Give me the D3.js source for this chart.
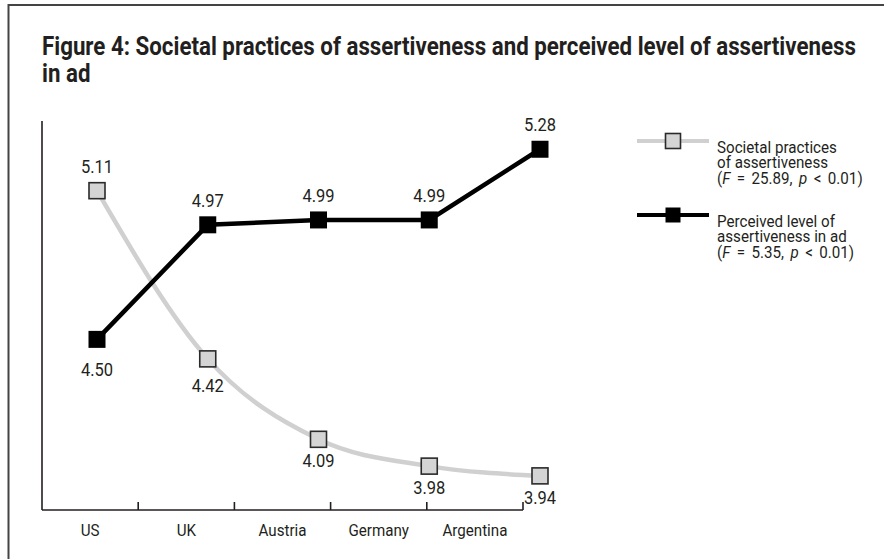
<!DOCTYPE html>
<html>
<head>
<meta charset="utf-8">
<script src="https://cdn.jsdelivr.net/npm/d3@7"></script>
<style>
  html, body { margin: 0; padding: 0; background: #fff; }
  svg { display: block; }
  text { font-family: Roboto, "Liberation Sans", sans-serif; fill: #231f20; }
</style>
</head>
<body>
<svg id="chart" width="884" height="559"></svg>
<script>
// Countries on the horizontal axis
const countries = ["US", "UK", "Austria", "Germany", "Argentina"];
// Mean scores per country
const societalPractices = [5.11, 4.42, 4.09, 3.98, 3.94];
const perceivedInAd = [4.50, 4.97, 4.99, 4.99, 5.28];
// Where each value label sits relative to its marker
const societalLabelPos = ["above", "below", "below", "below", "below"];
const perceivedLabelPos = ["below", "above", "above", "above", "above"];

const svg = d3.select("#chart");
const W = 884, H = 559;

// Outer frame
svg.append("rect")
  .attr("x", 8.5).attr("y", 5).attr("width", W + 10).attr("height", H + 10)
  .attr("fill", "none").attr("stroke", "#444").attr("stroke-width", 2);

// Squeeze a text horizontally about its anchor point to get a condensed face
function squeeze(sel, f) {
  sel.each(function () {
    const t = d3.select(this);
    const x = +t.attr("x"), yy = +t.attr("y");
    t.attr("x", 0).attr("y", 0)
      .attr("transform", `translate(${x},${yy}) scale(${f},1)`);
    t.selectAll("tspan[x]").attr("x", 0);
  });
}

// Title (its first line sets the condensing factor used for every text)
const titleFont = 25;
const title1 = svg.append("text").attr("x", 42).attr("y", 55)
  .attr("font-size", titleFont).attr("font-weight", "bold")
  .text("Figure 4: Societal practices of assertiveness and perceived level of assertiveness");
const titleWidth = 814;
const condense = titleWidth / title1.node().getComputedTextLength();
squeeze(title1, condense);

svg.append("text").attr("class", "cond").attr("x", 42).attr("y", 82)
  .attr("font-size", titleFont).attr("font-weight", "bold")
  .text("in ad");

// Scales
const axisLeft = 42, axisRight = 523, axisBottom = 510, axisTop = 121;
const xBand = d3.scaleBand().domain(countries).range([axisLeft, axisRight]);
const xPoint = d3.scalePoint().domain(countries).range([97, 540]);
const y = d3.scaleLinear().domain([3.8, 5.4]).range([axisBottom, 120]);

// Vertical axis line
svg.append("line")
  .attr("x1", axisLeft).attr("x2", axisLeft)
  .attr("y1", axisTop).attr("y2", axisBottom)
  .attr("stroke", "#231f20").attr("stroke-width", 1.6);

// Horizontal axis with inward ticks at category boundaries
const xAxisG = svg.append("g");
xAxisG.append("line")
  .attr("x1", axisLeft).attr("x2", axisRight)
  .attr("y1", axisBottom).attr("y2", axisBottom)
  .attr("stroke", "#231f20").attr("stroke-width", 1.6);
xAxisG.selectAll("line.tick")
  .data(countries)
  .join("line")
  .attr("class", "tick")
  .attr("x1", d => xBand(d) + xBand.bandwidth())
  .attr("x2", d => xBand(d) + xBand.bandwidth())
  .attr("y1", axisBottom - 8).attr("y2", axisBottom)
  .attr("stroke", "#231f20").attr("stroke-width", 1.6);
xAxisG.selectAll("text.cat")
  .data(countries)
  .join("text")
  .attr("class", "cat cond")
  .attr("x", d => xBand(d) + xBand.bandwidth() / 2)
  .attr("y", axisBottom + 26)
  .attr("text-anchor", "middle")
  .attr("font-size", 17)
  .text(d => d);

// Series lines
const societalData = countries.map((c, i) => ({ c, v: societalPractices[i], pos: societalLabelPos[i] }));
const perceivedData = countries.map((c, i) => ({ c, v: perceivedInAd[i], pos: perceivedLabelPos[i] }));

svg.append("path")
  .datum(societalData)
  .attr("fill", "none").attr("stroke", "#d0d0d0").attr("stroke-width", 4.5)
  .attr("d", d3.line().x(d => xPoint(d.c)).y(d => y(d.v)).curve(d3.curveMonotoneX));

svg.append("path")
  .datum(perceivedData)
  .attr("fill", "none").attr("stroke", "#000").attr("stroke-width", 4.5)
  .attr("d", d3.line().x(d => xPoint(d.c)).y(d => y(d.v)));

// Markers
const mSize = 16;
svg.selectAll("rect.soc")
  .data(societalData).join("rect").attr("class", "soc")
  .attr("x", d => xPoint(d.c) - mSize / 2).attr("y", d => y(d.v) - mSize / 2)
  .attr("width", mSize).attr("height", mSize)
  .attr("fill", "#d4d4d4").attr("stroke", "#2a2a2a").attr("stroke-width", 1.6);

svg.selectAll("rect.per")
  .data(perceivedData).join("rect").attr("class", "per")
  .attr("x", d => xPoint(d.c) - 8.5).attr("y", d => y(d.v) - 8.5)
  .attr("width", 17).attr("height", 17)
  .attr("fill", "#000");

// Value labels
function labelY(d, belowGap) {
  return d.pos === "above" ? y(d.v) - 18 : y(d.v) + belowGap;
}
svg.selectAll("text.socv")
  .data(societalData).join("text").attr("class", "socv cond")
  .attr("x", d => xPoint(d.c)).attr("y", (d, i) => labelY(d, i === 1 ? 33 : 28))
  .attr("text-anchor", "middle").attr("font-size", 18.5)
  .text(d => d.v.toFixed(2));

svg.selectAll("text.perv")
  .data(perceivedData).join("text").attr("class", "perv cond")
  .attr("x", d => xPoint(d.c)).attr("y", d => labelY(d, 37))
  .attr("text-anchor", "middle").attr("font-size", 18.5)
  .text(d => d.v.toFixed(2));

// Legend
const legend = svg.append("g");
const legendItems = [
  { color: "#d0d0d0", fill: "#d4d4d4", stroke: "#2a2a2a", y: 141,
    lines: ["Societal practices", "of assertiveness"], F: "25.89" },
  { color: "#000", fill: "#000", stroke: "none", y: 215,
    lines: ["Perceived level of", "assertiveness in ad"], F: "5.35" }
];
const legendFont = 17, legendLead = 15.5;
legendItems.forEach(item => {
  legend.append("line")
    .attr("x1", 637).attr("x2", 709).attr("y1", item.y).attr("y2", item.y)
    .attr("stroke", item.color).attr("stroke-width", 4);
  legend.append("rect")
    .attr("x", 673 - 7.5).attr("y", item.y - 7.5).attr("width", 15).attr("height", 15)
    .attr("fill", item.fill).attr("stroke", item.stroke).attr("stroke-width", 1.6);
  const base = item.y + 11.5;
  item.lines.forEach((ln, k) => {
    legend.append("text").attr("class", "cond")
      .attr("x", 717).attr("y", base + k * legendLead)
      .attr("font-size", legendFont).text(ln);
  });
  const t = legend.append("text").attr("class", "cond")
    .attr("x", 717).attr("y", base + 2 * legendLead)
    .attr("font-size", legendFont).attr("word-spacing", 3);
  t.append("tspan").text("(");
  t.append("tspan").attr("font-style", "italic").text("F");
  t.append("tspan").text(` = ${item.F}, `);
  t.append("tspan").attr("font-style", "italic").text("p");
  t.append("tspan").text(" < 0.01)");
});

// Narrow every remaining text run by the same factor
squeeze(svg.selectAll("text.cond"), condense);
</script>
</body>
</html>
